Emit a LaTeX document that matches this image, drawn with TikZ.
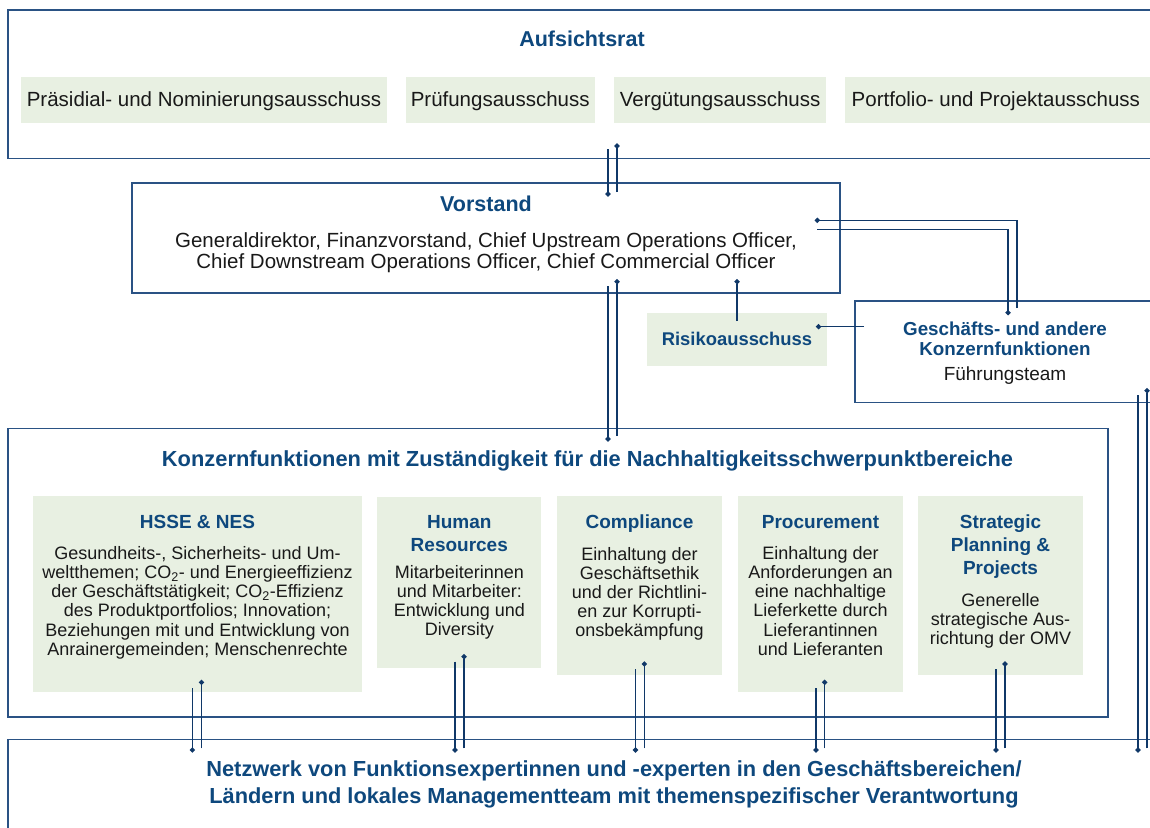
\documentclass[tikz,border=0pt]{standalone}
\usepackage{fontspec}
\setmainfont{Liberation Sans}
\usetikzlibrary{arrows.meta}
\definecolor{tblue}{RGB}{14,72,125}
\definecolor{bline}{RGB}{42,82,132}
\definecolor{cline}{RGB}{16,56,104}
\definecolor{gfill}{RGB}{232,240,226}
\definecolor{txt}{RGB}{25,25,25}
\begin{document}
\begin{tikzpicture}[x=1pt,y=-1pt,
  frame/.style={draw=bline, line width=1.8pt, inner sep=0pt, outer sep=0pt, anchor=north west},
  gbox/.style={fill=gfill, inner sep=0pt, outer sep=0pt, anchor=north west},
  bigttl/.style={text=tblue, font=\fontsize{21.5}{24}\selectfont\bfseries, align=center, anchor=base, inner sep=0pt},
  ttl/.style={text=tblue, font=\fontsize{19}{23}\selectfont\bfseries, align=center, anchor=base, inner sep=0pt},
  body/.style={text=txt, font=\fontsize{18}{19.2}\selectfont, align=center, anchor=base, inner sep=0pt},
  comm/.style={text=txt, font=\fontsize{20.5}{22}\selectfont, anchor=base, inner sep=0pt},
  conn/.style={draw=cline, line width=1.4pt, -{Circle[length=5pt,width=5pt]}, shorten >=-2.5pt}
]
\useasboundingbox (0,0) rectangle (1150,827);
\clip (0,0) rectangle (1150,827);

% (multi-line texts are placed by the baseline of their last line)

% ---------- Aufsichtsrat ----------
\node[frame, minimum width=1148pt, minimum height=148.5pt] (ar) at (8,10) {};
\node[bigttl] (tar) at (582,46.7) {Aufsichtsrat};
\node[gbox, minimum width=366pt, minimum height=46pt] (p1) at (21,77.3) {};
\node[gbox, minimum width=189.5pt, minimum height=46pt] (p2) at (405.5,77.3) {};
\node[gbox, minimum width=211.7pt, minimum height=46pt] (p3) at (614.3,77.3) {};
\node[gbox, minimum width=320pt, minimum height=46pt] (p4) at (845,77.3) {};
\node[comm] (tp1) at (204,106) {Präsidial- und Nominierungsausschuss};
\node[comm] (tp2) at (500.2,106) {Prüfungsausschuss};
\node[comm] (tp3) at (720.1,106) {Vergütungsausschuss};
\node[comm, anchor=base west] (tp4) at (851.5,106) {Portfolio- und Projektausschuss};

% ---------- Vorstand ----------
\node[frame, minimum width=708.3pt, minimum height=109.7pt] (vs) at (132,183.3) {};
\node[bigttl] (tvs) at (486,211.7) {Vorstand};
\node[comm, align=center, font=\fontsize{20.5}{21}\selectfont] (bvs) at (486,268) {Generaldirektor, Finanzvorstand, Chief Upstream Operations Officer,\\Chief Downstream Operations Officer, Chief Commercial Officer};

% ---------- Risikoausschuss ----------
\node[gbox, minimum width=180pt, minimum height=52.7pt] (rk) at (647,313) {};
\node[ttl, font=\fontsize{18.4}{20}\selectfont\bfseries] (trk) at (737,345) {Risikoausschuss};

% ---------- Geschaefts- und andere Konzernfunktionen ----------
\node[frame, minimum width=300pt, minimum height=101.7pt] (gf) at (855.3,300.7) {};
\node[ttl, font=\fontsize{18.8}{20}\selectfont\bfseries] (tgf) at (1005,355) {Geschäfts- und andere\\Konzernfunktionen};
\node[body, font=\fontsize{19}{20}\selectfont] (bgf) at (1005,380) {Führungsteam};

% ---------- Konzernfunktionen ----------
\node[frame, minimum width=1100.3pt, minimum height=288.2pt] (kz) at (8,428.5) {};
\node[bigttl, font=\fontsize{21.85}{24}\selectfont\bfseries] (tkz) at (587.5,466) {Konzernfunktionen mit Zuständigkeit für die Nachhaltigkeitsschwerpunktbereiche};

\node[gbox, minimum width=329pt, minimum height=195.7pt] (hsse) at (33,496) {};
\node[gbox, minimum width=164pt, minimum height=171.6pt] (hr) at (377.3,496.7) {};
\node[gbox, minimum width=165pt, minimum height=179pt] (comp) at (557,496) {};
\node[gbox, minimum width=165pt, minimum height=195.7pt] (proc) at (738,496) {};
\node[gbox, minimum width=164.4pt, minimum height=179pt] (strat) at (918.3,496) {};

\node[ttl] (thsse) at (197.5,528.3) {HSSE \& NES};
\node[body] (bhsse) at (197.5,655.3) {Gesundheits-, Sicherheits- und Um-\\weltthemen; CO\textsubscript{2}- und Energieeffizienz\\der Geschäftstätigkeit; CO\textsubscript{2}-Effizienz\\des Produktportfolios; Innovation;\\Beziehungen mit und Entwicklung von\\Anrainergemeinden; Menschenrechte};

\node[ttl] (thr) at (459.3,551.3) {Human\\Resources};
\node[body] (bhr) at (459.3,635.9) {Mitarbeiterinnen\\und Mitarbeiter:\\Entwicklung und\\Diversity};

\node[ttl] (tcomp) at (639.5,528.3) {Compliance};
\node[body] (bcomp) at (639.5,636.8) {Einhaltung der\\Geschäftsethik\\und der Richtlini-\\en zur Korrupti-\\onsbekämpfung};

\node[ttl] (tproc) at (820.5,528.3) {Procurement};
\node[body] (bproc) at (820.5,655.3) {Einhaltung der\\Anforderungen an\\eine nachhaltige\\Lieferkette durch\\Lieferantinnen\\und Lieferanten};

\node[ttl] (tstrat) at (1000.5,574.3) {Strategic\\Planning \&\\Projects};
\node[body] (bstrat) at (1000.5,644.4) {Generelle\\strategische Aus-\\richtung der OMV};

% ---------- Netzwerk ----------
\node[frame, minimum width=1212pt, minimum height=200pt] (nw) at (8,739.5) {};
\node[bigttl, font=\fontsize{21.8}{26.6}\selectfont\bfseries] (tnw) at (614,803.3) {Netzwerk von Funktionsexpertinnen und -experten in den Geschäftsbereichen/\\Ländern und lokales Managementteam mit themenspezifischer Verantwortung};

% ---------- connector end points ----------
\coordinate (a1s) at (608,149);   \coordinate (a1e) at (608,194);
\coordinate (a2s) at (617,192);   \coordinate (a2e) at (617,146);
\coordinate (b1s) at (608,286);   \coordinate (b1e) at (608,439);
\coordinate (b2s) at (617,436);   \coordinate (b2e) at (617,281.7);
\coordinate (rks) at (737,321);   \coordinate (rke) at (737,281.7);
\coordinate (grs) at (864,326.7); \coordinate (gre) at (818.5,326.7);
\coordinate (g1s) at (1017,308);  \coordinate (g1b) at (1017,220.3); \coordinate (g1e) at (817.3,220.3);
\coordinate (g2s) at (817.3,229.3); \coordinate (g2b) at (1008,229.3); \coordinate (g2e) at (1008,312.7);
\coordinate (n1s) at (1138,395.3); \coordinate (n1e) at (1138,750);
\coordinate (n2s) at (1147,748.3); \coordinate (n2e) at (1147,390.7);
\coordinate (h1s) at (192.3,688.3); \coordinate (h1e) at (192.3,750);
\coordinate (h2s) at (201.5,748.3); \coordinate (h2e) at (201.5,682.3);
\coordinate (r1s) at (455,661.7); \coordinate (r1e) at (455,750);
\coordinate (r2s) at (464,748.3); \coordinate (r2e) at (464,656.7);
\coordinate (c1s) at (635.5,669.3); \coordinate (c1e) at (635.5,750);
\coordinate (c2s) at (644.4,748.3); \coordinate (c2e) at (644.4,664);
\coordinate (q1s) at (816,688.3); \coordinate (q1e) at (816,750);
\coordinate (q2s) at (824.7,748.3); \coordinate (q2e) at (824.7,682.3);
\coordinate (s1s) at (996,669.3); \coordinate (s1e) at (996,750);
\coordinate (s2s) at (1005,748.3); \coordinate (s2e) at (1005,664);

% ---------- connectors ----------
\draw[conn] (a1s) -- (a1e);
\draw[conn] (a2s) -- (a2e);
\draw[conn] (b1s) -- (b1e);
\draw[conn] (b2s) -- (b2e);
\draw[conn] (rks) -- (rke);
\draw[conn] (grs) -- (gre);
\draw[conn] (g1s) -- (g1b) -- (g1e);
\draw[conn] (g2s) -- (g2b) -- (g2e);
\draw[conn] (n1s) -- (n1e);
\draw[conn] (n2s) -- (n2e);
\draw[conn] (h1s) -- (h1e);
\draw[conn] (h2s) -- (h2e);
\draw[conn] (r1s) -- (r1e);
\draw[conn] (r2s) -- (r2e);
\draw[conn] (c1s) -- (c1e);
\draw[conn] (c2s) -- (c2e);
\draw[conn] (q1s) -- (q1e);
\draw[conn] (q2s) -- (q2e);
\draw[conn] (s1s) -- (s1e);
\draw[conn] (s2s) -- (s2e);
\end{tikzpicture}
\end{document}
